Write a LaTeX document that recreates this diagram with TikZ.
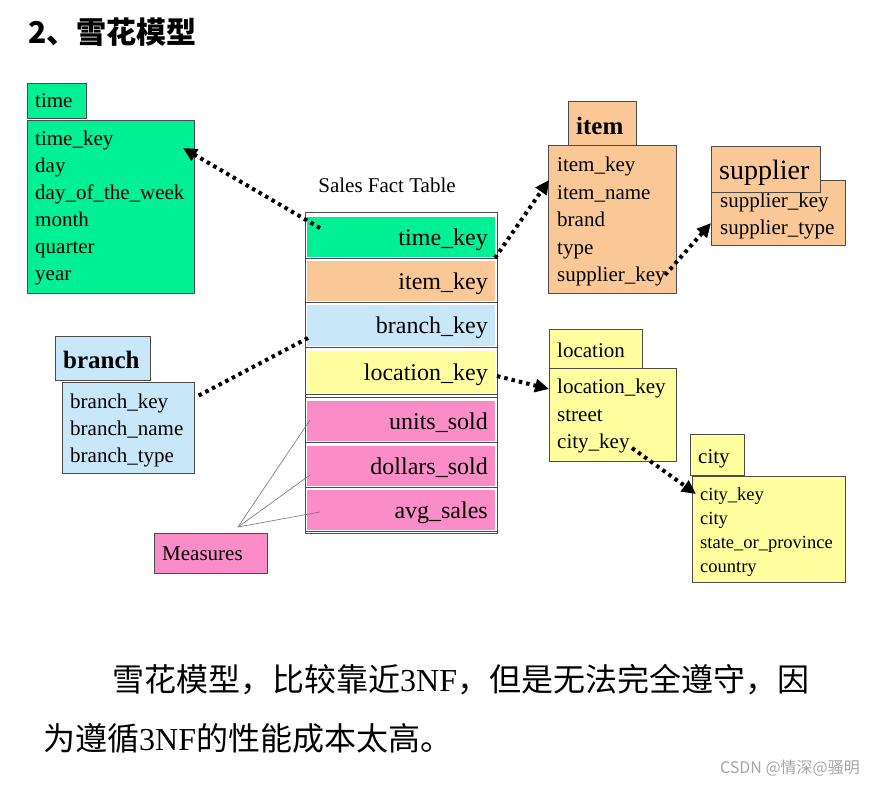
\documentclass[tikz,border=0pt]{standalone}
\usepackage{fontspec}
\setmainfont{Liberation Serif}
\newfontfamily\cjk{Noto Sans CJK SC}
\usetikzlibrary{arrows.meta}
\definecolor{cgreen}{RGB}{0,240,150}
\definecolor{corange}{RGB}{250,200,150}
\definecolor{cblue}{RGB}{200,232,250}
\definecolor{cyellow}{RGB}{255,255,160}
\definecolor{cpink}{RGB}{250,140,200}
\begin{document}
\begin{tikzpicture}[x=1pt,y=-1pt,
  box/.style={draw=black!70,line width=0.8pt},
  txt/.style={font=\fontsize{21}{21}\selectfont,anchor=base west,inner sep=0},
  rtxt/.style={font=\fontsize{24}{24}\selectfont,anchor=base east,inner sep=0},
  dot/.style={line width=4pt,dash pattern=on 3.5pt off 4pt},
  head/.style={-{Triangle[length=14pt,width=13pt]}},
  thin/.style={draw=black!55,line width=0.6pt}]
\useasboundingbox (0,0) rectangle (873,787);
\node[anchor=west,inner sep=0,font=\cjk\bfseries\fontsize{30}{30}\selectfont] (title) at (28,32) {2、雪花模型};
% time
\fill[cgreen] (27,83) rectangle (86,118); \draw[box] (27,83) rectangle (86,118);
\fill[cgreen] (27,120) rectangle (194,293); \draw[box] (27,120) rectangle (194,293);
\node[txt] (ttab) at (35,107) {time};
\foreach \t [count=\i] in {time\_key,day,day\_of\_the\_week,month,quarter,year}
  \node[txt] (t\i) at (35,118+27*\i) {\t};
% fact table
\node[inner sep=0,font=\fontsize{21}{21}\selectfont] (sft) at (387,185) {Sales Fact Table};
\draw[box] (305,212) rectangle (497,533);
\foreach \ya/\yb/\c/\t [count=\i] in {217/257/cgreen/time\_key,261/301/corange/item\_key,305/346/cblue/branch\_key,351/393/cyellow/location\_key,401/441/cpink/units\_sold,446/486/cpink/dollars\_sold,490/530/cpink/avg\_sales}{
  \fill[\c] (307,\ya) rectangle (495,\yb);
  \draw[black!70,line width=0.8pt] (305,\yb+1.5) -- (497,\yb+1.5);
  \node[rtxt] (f\i) at (488,{(\ya+\yb)/2+8}) {\t};
}
\draw[black!70,line width=0.8pt] (305,397) -- (497,397);
% branch
\fill[cblue] (55,336) rectangle (150,380); \draw[box] (55,336) rectangle (150,380);
\fill[cblue] (62,382) rectangle (194,473); \draw[box] (62,382) rectangle (194,473);
\node[txt,font=\bfseries\fontsize{25}{25}\selectfont] (btab) at (63,368) {branch};
\foreach \t [count=\i] in {branch\_key,branch\_name,branch\_type}
  \node[txt] (b\i) at (70,381+27*\i) {\t};
% measures
\fill[cpink] (154,533) rectangle (267,573); \draw[box] (154,533) rectangle (267,573);
\node[txt] (meas) at (162,560) {Measures};
\coordinate (mp) at (238,527);
\draw[thin] (mp) -- (310,420); \draw[thin] (mp) -- (310,475); \draw[thin] (mp) -- (320,512);
% item
\fill[corange] (568,101) rectangle (636,145); \draw[box] (568,101) rectangle (636,145);
\fill[corange] (548,145) rectangle (676,293); \draw[box] (548,145) rectangle (676,293);
\node[txt,font=\bfseries\fontsize{25}{25}\selectfont] (itab) at (576,134) {item};
\foreach \t [count=\i] in {item\_key,item\_name,brand,type,supplier\_key}
  \node[txt] (i\i) at (557,144+27.5*\i) {\t};
% supplier
\fill[corange] (711,180) rectangle (845,245); \draw[box] (711,180) rectangle (845,245);
\node[txt] (s1) at (720,207) {supplier\_key};
\node[txt] (s2) at (720,234) {supplier\_type};
\fill[corange] (711,146) rectangle (820,192); \draw[box] (711,146) rectangle (820,192);
\node[txt,font=\fontsize{28}{28}\selectfont] (stab) at (719,179) {supplier};
% location
\fill[cyellow] (549,329) rectangle (642,368); \draw[box] (549,329) rectangle (642,368);
\fill[cyellow] (549,368) rectangle (676,461); \draw[box] (549,368) rectangle (676,461);
\node[txt] (ltab) at (557,357) {location};
\foreach \t [count=\i] in {location\_key,street,city\_key}
  \node[txt] (l\i) at (557,366+27.5*\i) {\t};
% city
\fill[cyellow] (690,434) rectangle (744,475); \draw[box] (690,434) rectangle (744,475);
\fill[cyellow] (692,476) rectangle (845,582); \draw[box] (692,476) rectangle (845,582);
\node[txt] (ctab) at (698,463) {city};
\foreach \t [count=\i] in {city\_key,city,state\_or\_province,country}
  \node[txt,font=\fontsize{18.5}{18.5}\selectfont] (c\i) at (700,476+24*\i) {\t};
% arrows
\coordinate (a1) at (320,228); \coordinate (a2) at (183,148);
\draw[dot,head] (a1) -- (a2);
\coordinate (b1) at (495,258); \coordinate (b2) at (549,180);
\draw[dot,head] (b1) -- (b2);
\coordinate (c1) at (665,275); \coordinate (c2) at (711,223);
\draw[dot,head] (c1) -- (c2);
\coordinate (d1) at (308,338); \coordinate (d2) at (196,397);
\draw[dot] (d1) -- (d2);
\coordinate (e1) at (497,376); \coordinate (e2) at (549,389);
\draw[dot,head] (e1) -- (e2);
\coordinate (g1) at (632,448); \coordinate (g2) at (696,494);
\draw[dot,head] (g1) -- (g2);
% bottom text
\node[anchor=west,inner sep=0,font=\cjk\fontsize{32}{32}\selectfont] (p1) at (112,680) {雪花模型，比较靠近{\rmfamily 3NF}，但是无法完全遵守，因};
\node[anchor=west,inner sep=0,font=\cjk\fontsize{32}{32}\selectfont] (p2) at (43,738) {为遵循{\rmfamily 3NF}的性能成本太高。};
\node[anchor=east,inner sep=0,text=black!35,font=\cjk\fontsize{16}{16}\selectfont] (wm) at (860,768) {CSDN @情深@骚明};
\end{tikzpicture}
\end{document}
